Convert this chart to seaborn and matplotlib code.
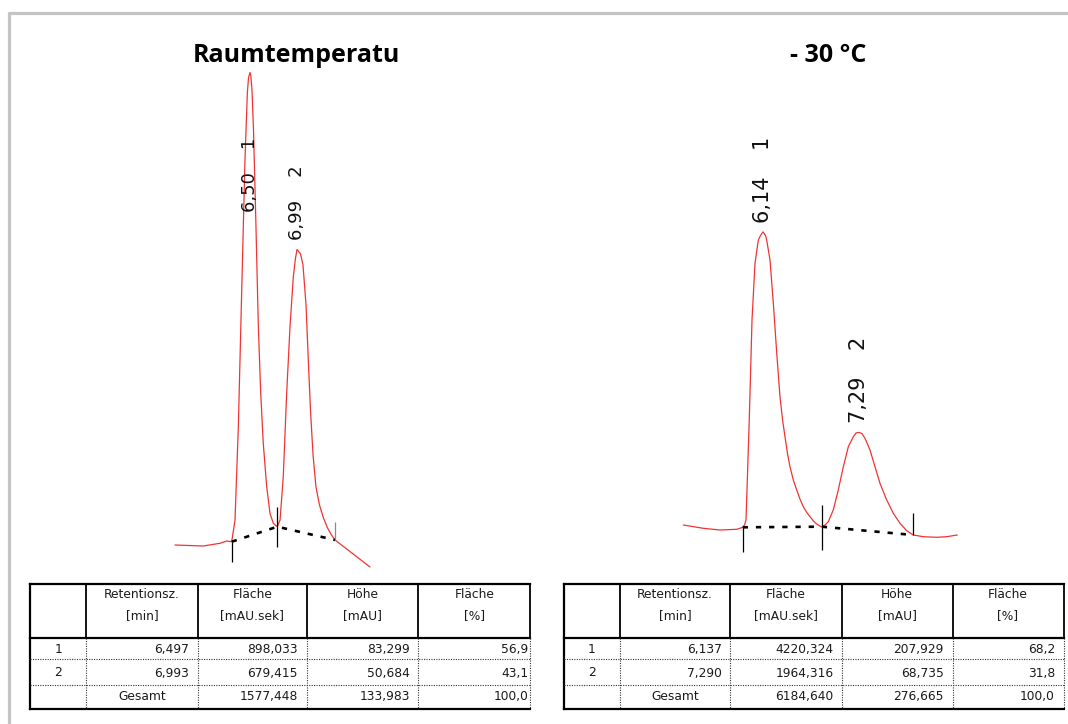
import numpy as np
import pandas as pd
import matplotlib
matplotlib.use("Agg")
import matplotlib.pyplot as plt
import seaborn as sns

# ---------------- Raumtemperatur ----------------
rt_room = [6.497, 6.993]                 # retention time [min]
area_room = [898.033, 679.415]           # [mAU.sek]
height_room = [83.299, 50.684]           # [mAU]
share_room = [56.9, 43.1]                # [%]
total_room = [1577.448, 133.983, 100.0]  # area, height, share

# detector trace (min, mAU); the apex points are added from the peak table
time_room = [5.706, 6.004, 6.181, 6.251, 6.304, 6.339, 6.374, 6.409, 6.444,
             6.469, 6.481, 6.505, 6.518, 6.534, 6.560, 6.585, 6.610, 6.637,
             6.673, 6.708, 6.743, 6.785, 6.814, 6.848, 6.884, 6.919, 6.954,
             6.977, 7.030, 7.056, 7.088, 7.112, 7.135, 7.162, 7.193, 7.230,
             7.272, 7.315, 7.357, 7.394, 7.763]
signal_room = [0.00, -0.18, 0.31, 0.72, 0.59, 4.50, 21.28, 45.32, 69.24,
               81.29, 84.00, 84.54, 81.84, 74.64, 57.25, 39.26, 27.34, 18.29,
               10.49, 5.70, 3.90, 3.29, 4.50, 12.28, 27.34, 39.26, 48.26,
               51.60, 52.34, 50.36, 43.17, 33.27, 24.28, 16.19, 10.43, 7.19,
               4.86, 3.06, 1.80, 0.90, -3.96]
events_room = [6.304, 6.785, 7.394]     # peak start, valley, peak end

# ---------------- -30 °C ----------------
rt_cold = [6.137, 7.290]
area_cold = [4220.324, 1964.316]
height_cold = [207.929, 68.735]
share_cold = [68.2, 31.8]
total_cold = [6184.640, 276.665, 100.0]

time_cold = [5.180, 5.420, 5.621, 5.821, 5.893, 5.915, 5.933, 5.972, 6.005,
             6.041, 6.081, 6.107, 6.167, 6.181, 6.221, 6.261, 6.302, 6.341,
             6.371, 6.401, 6.431, 6.461, 6.501, 6.542, 6.582, 6.621, 6.662,
             6.702, 6.742, 6.782, 6.812, 6.842, 6.881, 6.921, 6.981, 7.041,
             7.102, 7.162, 7.222, 7.256, 7.325, 7.362, 7.422, 7.482, 7.542,
             7.623, 7.702, 7.783, 7.863, 7.942, 8.062, 8.223, 8.343, 8.471]
signal_cold = [2.11, -0.21, -1.41, -0.92, 0.49, 2.20, 5.63, 76.06, 146.48,
               186.41, 202.82, 206.00, 206.00, 202.82, 188.73, 158.24, 123.03, 92.46,
               76.50, 64.30, 52.50, 43.17, 33.80, 26.76, 20.20, 15.00, 11.00,
               7.96, 5.00, 2.82, 1.60, 0.92, 2.00, 4.44, 12.68, 26.76,
               43.17, 57.25, 64.30, 67.00, 66.50, 63.17, 54.93, 43.17, 31.48,
               19.72, 10.35, 3.31, -1.90, -4.93, -6.13, -6.55, -6.13, -4.93]
events_cold = [5.893, 6.842, 7.942]

header_top = ["", "Retentionsz.", "Fläche", "Höhe", "Fläche"]
header_unit = ["", "[min]", "[mAU.sek]", "[mAU]", "[%]"]
total_label = "Gesamt"

sns.set_theme(style="white")
plt.rcParams["font.family"] = ["DejaVu Sans"]

W, H = 1068, 724
fig = plt.figure(figsize=(W / 100, H / 100), dpi=100)
fig.patch.set_facecolor("white")


def px_axes(x0, y0, x1, y1):
    """Axes placed by pixel box (left, top, right, bottom)."""
    return fig.add_axes([x0 / W, 1 - y1 / H, (x1 - x0) / W, (y1 - y0) / H])


def de(v, nd):
    return f"{v:.{nd}f}".replace(".", ",")


def full_trace(times, signals, rts, heights, events):
    times = np.asarray(times, float)
    signals = np.asarray(signals, float)
    ev_sig = np.interp(events, times, signals)
    # apex = peak height above the drawn integration baseline
    apex = np.asarray(heights) + np.interp(rts, events, ev_sig)
    t = np.concatenate([times, rts])
    s = np.concatenate([signals, apex])
    order = np.argsort(t)
    df = pd.DataFrame({"Zeit": t[order], "Signal": s[order]})
    return df, ev_sig, apex


def chromatogram(ax, times, signals, rts, heights, events, xlim, ylim,
                 ticks, label_size, label_cap=None):
    df, ev_sig, apex = full_trace(times, signals, rts, heights, events)
    ax.set_xlim(*xlim)
    ax.set_ylim(*ylim)
    ax.set_axis_off()
    h_px = ax.get_position().height * H
    per_px = (ylim[1] - ylim[0]) / h_px

    sns.lineplot(data=df, x="Zeit", y="Signal", ax=ax, color="#f03434",
                 linewidth=0.9, sort=False, estimator=None, zorder=2)
    ax.plot(events, ev_sig, color="black", lw=1.9,
            linestyle=(0, (2.0, 3.0)), dash_capstyle="butt", zorder=3)
    for tt, ss, (up, down, col) in zip(events, ev_sig, ticks):
        ax.plot([tt, tt], [ss - down * per_px, ss + up * per_px],
                color=col, lw=0.9, solid_capstyle="butt", zorder=4)
    for i, (r, a) in enumerate(zip(rts, apex)):
        y = a + 9 * per_px
        if label_cap is not None:
            y = min(y, label_cap)
        txt = de(r, 2) + "    " + str(i + 1)
        ax.text(r, y, txt, rotation=90, ha="center", va="bottom",
                fontsize=label_size, color="#111111")


ax_room = px_axes(170, 60, 380, 575)
chromatogram(ax_room, time_room, signal_room, rt_room, height_room, events_room,
             xlim=(5.6531, 7.8684), ylim=(-5.396, 87.23),
             ticks=[(0, 20, "black"), (20, 20, "black"), (18, 0, "#8a8a8a")],
             label_size=13, label_cap=59.9)

ax_cold = px_axes(675, 120, 965, 575)
chromatogram(ax_cold, time_cold, signal_cold, rt_cold, height_cold, events_cold,
             xlim=(5.0800, 8.5632), ylim=(-33.10, 287.32),
             ticks=[(0, 25, "black"), (22, 23, "black"), (22, 0, "black")],
             label_size=15)

# titles
fig.text(296.5 / W, 1 - 62 / H, "Raumtemperatu", ha="center", va="baseline",
         fontsize=18, fontweight="bold", family="Open Sans", color="black")
fig.text(828 / W, 1 - 62 / H, "- 30 °C", ha="center", va="baseline",
         fontsize=18, fontweight="bold", family="Open Sans", color="black")

# page frame and peak tables, drawn in pixel space
ax_pg = fig.add_axes([0, 0, 1, 1], zorder=-1)
ax_pg.set_xlim(0, W)
ax_pg.set_ylim(H, 0)
ax_pg.set_axis_off()
ax_pg.plot([8, W], [13, 13], color="#c4c4c4", lw=2.3, solid_capstyle="butt")
ax_pg.plot([9, 9], [12, H], color="#c4c4c4", lw=2.3, solid_capstyle="butt")


def peak_table(xe, rts, areas, heights, shares, totals, last_pad):
    top, head_bot, r1, r2, bot = 583.5, 638.0, 659.0, 684.5, 709.0
    x0, x_end = xe[0], xe[-1]
    thick = dict(color="black", lw=1.6, solid_capstyle="projecting")
    dotted = dict(color="#333333", lw=0.8, linestyle=(0, (1, 1.2)))
    ax_pg.plot([x0, x_end], [top, top], **thick)
    ax_pg.plot([x0, x_end], [bot, bot], **thick)
    ax_pg.plot([x0, x0], [top, bot], **thick)
    ax_pg.plot([x0, x_end], [head_bot, head_bot], **thick)
    for x in xe[1:]:
        ax_pg.plot([x, x], [top, head_bot], color="black", lw=1.3)
        ax_pg.plot([x, x], [head_bot, bot], **dotted)
    for y in (r1, r2):
        ax_pg.plot([x0, x_end], [y, y], **dotted)

    fs = 8.8
    for j in range(1, 5):
        cx = (xe[j] + xe[j + 1]) / 2
        ax_pg.text(cx, 594.5, header_top[j], ha="center", va="center",
                   fontsize=fs, color="#1a1a1a")
        ax_pg.text(cx, 616.0, header_unit[j], ha="center", va="center",
                   fontsize=fs, color="#1a1a1a")

    rows_y = [649.5, 673.0, 696.5]
    for i in range(2):
        cells = [de(rts[i], 3), de(areas[i], 3), de(heights[i], 3), de(shares[i], 1)]
        ax_pg.text((xe[0] + xe[1]) / 2, rows_y[i], str(i + 1), ha="center",
                   va="center", fontsize=fs, color="#1a1a1a")
        for j, c in enumerate(cells):
            pad = last_pad if j == 3 else 8.6
            ax_pg.text(xe[j + 2] - pad, rows_y[i], c, ha="right", va="center",
                       fontsize=fs, color="#1a1a1a")
    ax_pg.text((xe[1] + xe[2]) / 2, rows_y[2], total_label, ha="center",
               va="center", fontsize=fs, color="#1a1a1a")
    tot_cells = [de(totals[0], 3), de(totals[1], 3), de(totals[2], 1)]
    for j, c in enumerate(tot_cells):
        pad = last_pad if j == 2 else 8.6
        ax_pg.text(xe[j + 3] - pad, rows_y[2], c, ha="right", va="center",
                   fontsize=fs, color="#1a1a1a")


peak_table([30.3, 86.0, 198.0, 306.5, 418.4, 530.3],
           rt_room, area_room, height_room, share_room, total_room, last_pad=1.8)
peak_table([563.6, 619.8, 730.2, 842.0, 952.5, 1063.6],
           rt_cold, area_cold, height_cold, share_cold, total_cold, last_pad=8.6)

fig.savefig("out.png", dpi=100, facecolor="white")
